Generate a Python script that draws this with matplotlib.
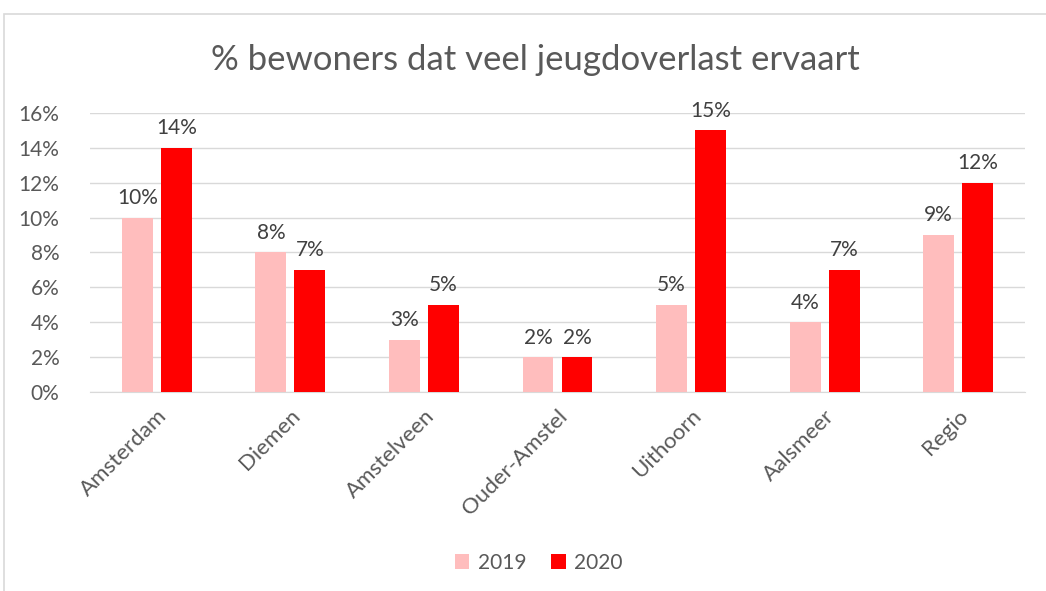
import matplotlib.pyplot as plt
import numpy as np
from matplotlib.patches import Rectangle

gemeenten = ["Amsterdam", "Diemen", "Amstelveen", "Ouder-Amstel", "Uithoorn", "Aalsmeer", "Regio"]
jaar_2019 = [0.10, 0.08, 0.03, 0.02, 0.05, 0.04, 0.09]
jaar_2020 = [0.14, 0.07, 0.05, 0.02, 0.15, 0.07, 0.12]
yticks = [0.00, 0.02, 0.04, 0.06, 0.08, 0.10, 0.12, 0.14, 0.16]

grijs = "#595959"
plt.rcParams['font.family'] = ['Lato', 'DejaVu Sans']

fig = plt.figure(figsize=(10.46, 5.91), dpi=100)
# kader rond de grafiek
fig.patches.append(Rectangle((4/1046, -0.01), 1.0, 1 - 14/591 + 0.01, transform=fig.transFigure,
                             fill=False, edgecolor="#d9d9d9", linewidth=1.2))
ax = fig.add_axes([90/1046, 1 - 392/591, 935/1046, (392 - 113)/591])

x = np.arange(len(gemeenten))
w = 0.23
off = 0.146
b1 = ax.bar(x - off, jaar_2019, w, color="#ffbdbd", label="2019", zorder=3)
b2 = ax.bar(x + off, jaar_2020, w, color="#ff0000", label="2020", zorder=3)

for bars in (b1, b2):
    for r in bars:
        ax.text(r.get_x() + r.get_width() / 2, r.get_height() + 0.0055, f"{r.get_height()*100:.0f}%",
                ha="center", va="bottom", fontsize=15, color="#404040")

ax.set_xlim(-0.5, len(gemeenten) - 0.5)
ax.set_ylim(0, 0.16)
ax.set_yticks(yticks)
ax.set_yticklabels([f"{t*100:.0f}%" for t in yticks])
ax.yaxis.grid(True, color="#d9d9d9", linewidth=1, zorder=0)
ax.set_xticks(x)
ax.set_xticklabels(gemeenten, rotation=45, ha="right", rotation_mode="anchor")
ax.tick_params(axis="y", length=0, labelsize=15, labelcolor=grijs, pad=22)
ax.tick_params(axis="x", length=0, labelsize=16, labelcolor=grijs, pad=10)
for s in ["top", "right", "left"]:
    ax.spines[s].set_visible(False)
ax.spines["bottom"].set_color("#d9d9d9")

fig.text(0.512, 1 - 60/591, "% bewoners dat veel jeugdoverlast ervaart", ha="center", va="center",
         fontsize=25, color=grijs)

leg = fig.legend(loc="center", bbox_to_anchor=(0.515, 1 - 563/591), ncol=2, frameon=False,
                 fontsize=15, handlelength=0.7, handleheight=0.7, columnspacing=1.2, handletextpad=0.4)
for t in leg.get_texts():
    t.set_color(grijs)

fig.savefig("out.png", dpi=100)
